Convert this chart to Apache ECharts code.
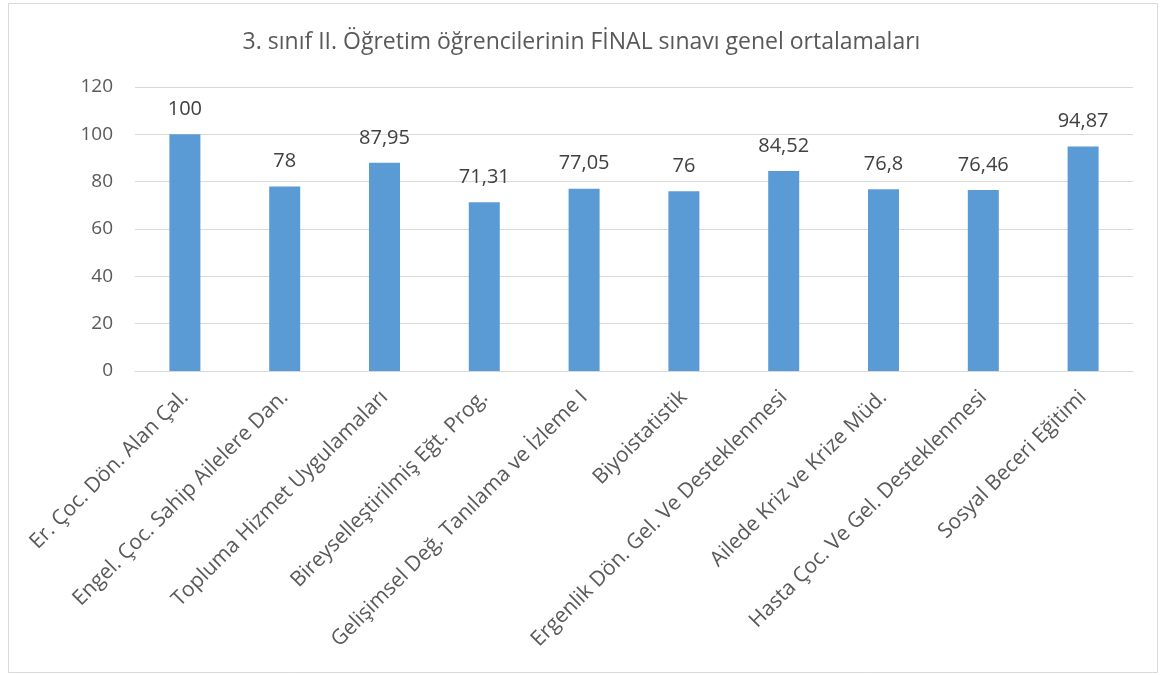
<!DOCTYPE html>
<html>
<head>
<meta charset="utf-8">
<script src="https://cdn.jsdelivr.net/npm/echarts@6/dist/echarts.min.js"></script>
<style>
  html, body { margin: 0; padding: 0; background: #fff; }
  #chart { width: 1163px; height: 675px; }
</style>
</head>
<body>
<div id="chart"></div>
<script>
// ders adları (x ekseni)
const courses = [
  'Er. Çoc. Dön. Alan Çal.',
  'Engel. Çoc. Sahip Ailelere Dan.',
  'Topluma Hizmet Uygulamaları',
  'Bireyselleştirilmiş Eğt. Prog.',
  'Gelişimsel Değ. Tanılama ve İzleme I',
  'Biyoistatistik',
  'Ergenlik Dön. Gel. Ve Desteklenmesi',
  'Ailede Kriz ve Krize Müd.',
  'Hasta Çoc. Ve Gel. Desteklenmesi',
  'Sosyal Beceri Eğitimi'
];
// final ortalamaları
const averages = [100, 78, 87.95, 71.31, 77.05, 76, 84.52, 76.8, 76.46, 94.87];
const yTicks = [0, 20, 40, 60, 80, 100, 120];

const font = '"Open Sans", Lato, sans-serif';
const chart = echarts.init(document.getElementById('chart'));

chart.setOption({
  animation: false,
  graphic: [{
    type: 'rect',
    shape: { x: 8.5, y: 3.5, width: 1149, height: 669 },
    style: { fill: 'none', stroke: '#D9D9D9', lineWidth: 1 },
    silent: true
  }],
  title: {
    text: '3. sınıf II. Öğretim öğrencilerinin FİNAL sınavı genel ortalamaları',
    left: 'center',
    top: 26,
    textStyle: { fontFamily: font, fontSize: 23, fontWeight: 'normal', color: '#595959' }
  },
  grid: { left: 135, right: 30, top: 87, bottom: 304 },
  xAxis: {
    type: 'category',
    data: courses,
    axisLine: { lineStyle: { color: '#D9D9D9' } },
    axisTick: { show: false },
    axisLabel: {
      interval: 0,
      rotate: 45,
      margin: 23,
      fontFamily: font,
      fontSize: 21,
      color: '#595959'
    }
  },
  yAxis: {
    type: 'value',
    min: yTicks[0],
    max: yTicks[yTicks.length - 1],
    interval: 20,
    axisLine: { show: false },
    axisTick: { show: false },
    splitLine: { lineStyle: { color: '#D9D9D9' } },
    axisLabel: { margin: 22, fontFamily: font, fontSize: 19, color: '#595959' }
  },
  series: [{
    type: 'bar',
    data: averages,
    barWidth: 31,
    itemStyle: { color: '#5B9BD5' },
    label: {
      show: true,
      position: 'top',
      distance: 15,
      fontFamily: font,
      fontSize: 20,
      color: '#404040',
      formatter: p => String(p.value).replace('.', ',')
    }
  }]
});
</script>
</body>
</html>
